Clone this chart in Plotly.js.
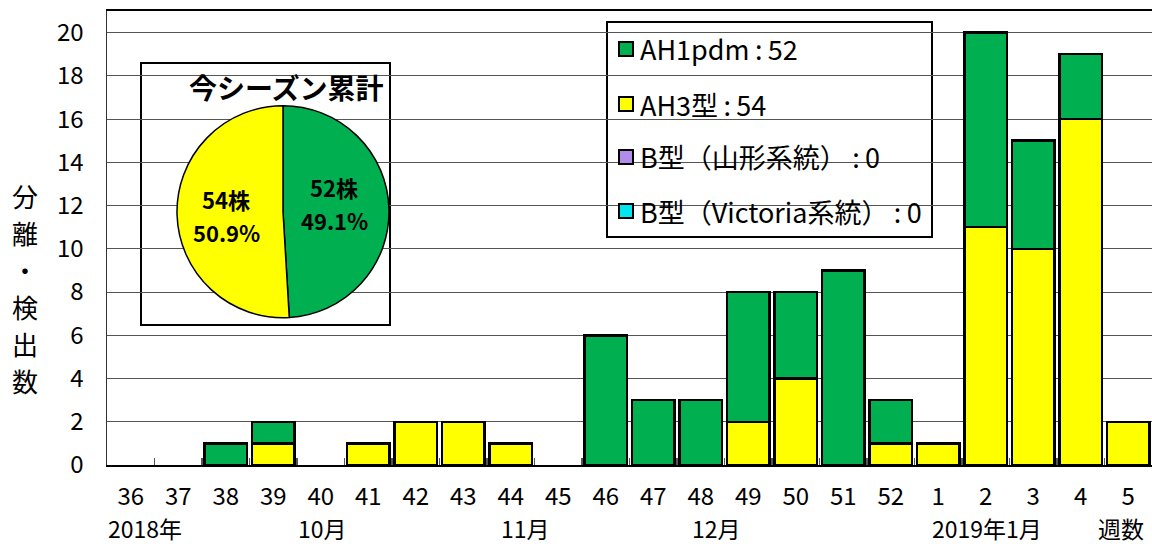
<!DOCTYPE html>
<html>
<head>
<meta charset="utf-8">
<script src="https://cdn.plot.ly/plotly-3.0.1.min.js"></script>
<style>html,body{margin:0;padding:0;background:#fff;}#chart{width:1152px;height:544px;}</style>
</head>
<body>
<div id="chart"></div>
<script>
// ---- data ----
const weeks = ["36","37","38","39","40","41","42","43","44","45","46","47","48","49","50","51","52","1","2","3","4","5"];
const ah1pdm = [0,0,1,1,0,0,0,0,0,0,6,3,3,6,4,9,2,0,9,5,3,0];
const ah3    = [0,0,0,1,0,1,2,2,1,0,0,0,0,2,4,0,1,1,11,10,16,2];
const bYamagata = [0,0,0,0,0,0,0,0,0,0,0,0,0,0,0,0,0,0,0,0,0,0];
const bVictoria = [0,0,0,0,0,0,0,0,0,0,0,0,0,0,0,0,0,0,0,0,0,0];
const seriesNames = ["AH1pdm", "AH3型", "B型（山形系統）", "B型（Victoria系統）"];
const seriesColors = ["#00B050", "#FFFF00", "#B38CEB", "#00E5EE"];
const yTicks = [0,2,4,6,8,10,12,14,16,18,20];
const monthLabels = ["2018年", "10月", "11月", "12月", "2019年1月", "週数"];
const monthPos = [0.3, 4.03, 8.32, 12.34, 18.03, 20.85];
const yTitleChars = ["分","離","・","検","出","数"];
const pieTitle = "今シーズン累計";

// ---- layout helpers (pixel -> paper) ----
const W = 1152, H = 544, ML = 107, MR = 0, MT = 11, MB = 79;
const PW = W - ML - MR, PH = H - MT - MB;
const px = x => (x - ML) / PW;
const py = y => (H - MB - y) / PH;
const sum = a => a.reduce((s, v) => s + v, 0);
const FONT = "'Noto Sans CJK JP', 'Noto Sans', sans-serif";

const seriesData = [ah1pdm, ah3, bYamagata, bVictoria];
const totals = seriesData.map(sum);

const traces = [];
// stacked: AH3 bottom, AH1pdm on top; zero counts draw no bar
[[1, ah3], [0, ah1pdm], [2, bYamagata], [3, bVictoria]].forEach(([i, arr]) => {
  traces.push({
    type: "bar", x: weeks, y: arr.map(v => v === 0 ? null : v), name: seriesNames[i],
    marker: {color: seriesColors[i], line: {color: "#000", width: 2.5}},
    showlegend: false, hoverinfo: "skip"
  });
});

const tot = totals[0] + totals[1];
const pct = v => (Math.round(v / tot * 1000) / 10).toFixed(1);
traces.push({
  type: "pie", values: [totals[0], totals[1]], labels: [seriesNames[0], seriesNames[1]],
  textinfo: "none",
  marker: {colors: [seriesColors[0], seriesColors[1]], line: {color: "#000", width: 1.5}},
  sort: false, direction: "clockwise", rotation: 0,
  domain: {x: [px(177), px(389)], y: [py(317.7), py(105.7)]},
  showlegend: false, hoverinfo: "skip"
});

const shapes = [
  // pie box
  {type: "rect", xref: "paper", yref: "paper", x0: px(141), x1: px(390), y0: py(325), y1: py(63),
   line: {color: "#000", width: 2}, fillcolor: "#fff", layer: "between"},
  // legend box
  {type: "rect", xref: "paper", yref: "paper", x0: px(607), x1: px(932), y0: py(237), y1: py(22),
   line: {color: "#000", width: 2}, fillcolor: "#fff", layer: "between"}
];
const annotations = [];
const rowY = [49, 104, 157, 211];
seriesNames.forEach((n, i) => {
  shapes.push({type: "rect", xref: "paper", yref: "paper",
    x0: px(619), x1: px(633), y0: py(rowY[i] + 7), y1: py(rowY[i] - 7),
    line: {color: "#000", width: 2}, fillcolor: seriesColors[i], layer: "above"});
  annotations.push({xref: "paper", yref: "paper", x: px(638), y: py(rowY[i]), xanchor: "left", yanchor: "middle",
    text: n + "\u2009:\u2009" + totals[i], showarrow: false, font: {family: FONT, size: 27, color: "#000"}});
});
annotations.push({xref: "paper", yref: "paper", x: px(286), y: py(87), xanchor: "center", yanchor: "middle",
  text: "<b>" + pieTitle + "</b>", showarrow: false, font: {family: FONT, size: 28, color: "#000"}});
// pie slice labels (count + share), computed from the totals
const pieLabelPos = [[334, 187, 220], [226, 199, 232]];
[0, 1].forEach(i => {
  const [x, y1, y2] = pieLabelPos[i];
  annotations.push({xref: "paper", yref: "paper", x: px(x), y: py(y1), xanchor: "center", yanchor: "middle",
    text: "<b>" + totals[i] + "株</b>", showarrow: false, font: {family: FONT, size: 22, color: "#000"}});
  annotations.push({xref: "paper", yref: "paper", x: px(x), y: py(y2), xanchor: "center", yanchor: "middle",
    text: "<b>" + pct(totals[i]) + "%</b>", showarrow: false, font: {family: FONT, size: 22, color: "#000"}});
});
yTitleChars.forEach((c, i) => {
  annotations.push({xref: "paper", yref: "paper", x: px(25), y: py(195 + i * 37), xanchor: "center", yanchor: "middle",
    text: c, showarrow: false, font: {family: FONT, size: 26, color: "#000"}});
});
monthLabels.forEach((m, i) => {
  annotations.push({xref: "x", yref: "paper", x: monthPos[i], y: py(528), xanchor: "center", yanchor: "middle",
    text: m, showarrow: false, font: {family: FONT, size: 23, color: "#000"}});
});

const layout = {
  width: W, height: H,
  margin: {l: ML, r: MR, t: MT, b: MB, pad: 0},
  paper_bgcolor: "#fff", plot_bgcolor: "#fff",
  barmode: "stack", bargap: 0.095,
  showlegend: false,
  font: {family: FONT, size: 24, color: "#000"},
  xaxis: {type: "category", categoryorder: "array", categoryarray: weeks, range: [-0.5, weeks.length - 0.5],
    showline: true, linecolor: "#000", linewidth: 2, mirror: true,
    ticks: "inside", ticklen: 7, tickcolor: "#555", tickwidth: 1.5, tickson: "boundaries",
    showgrid: false, zeroline: false, ticklabelstandoff: 9,
    tickfont: {family: FONT, size: 24, color: "#000"}},
  yaxis: {range: [0, 21], tickvals: yTicks, ticktext: yTicks.map(String),
    showline: true, linecolor: "#333", linewidth: 1.5,
    showgrid: true, gridcolor: "#555", gridwidth: 1, zeroline: false,
    ticks: "", ticklabelstandoff: 17,
    tickfont: {family: FONT, size: 24, color: "#000"}},
  shapes: shapes, annotations: annotations
};

Plotly.newPlot("chart", traces, layout, {staticPlot: true, displayModeBar: false});
</script>
</body>
</html>
